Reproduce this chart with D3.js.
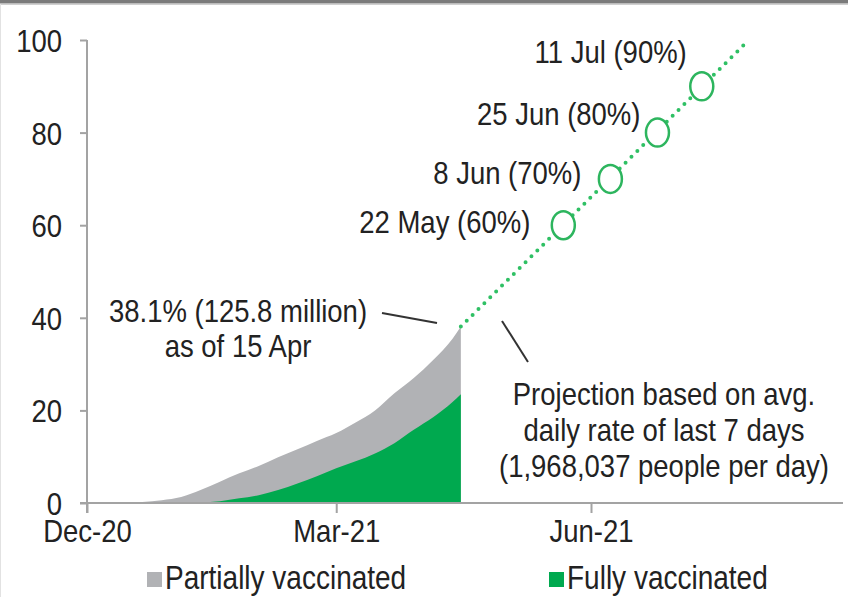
<!DOCTYPE html>
<html>
<head>
<meta charset="utf-8">
<script src="https://cdn.jsdelivr.net/npm/d3@7"></script>
<style>
  body { margin: 0; background: #fff; }
  text { font-family: "Liberation Sans", Arial, sans-serif; font-size: 27.5px; fill: #222; }
  .legend text { font-size: 28px; }
</style>
</head>
<body>
<div id="chart"></div>
<script>
// vaccination to date (% of population)
var dates = ["2020-12-14", "2020-12-21", "2020-12-28", "2021-01-04", "2021-01-11", "2021-01-18",
    "2021-01-25", "2021-02-01", "2021-02-08", "2021-02-15", "2021-02-22", "2021-03-01",
    "2021-03-08", "2021-03-15", "2021-03-22", "2021-03-29", "2021-04-05", "2021-04-12", "2021-04-15"];
var atLeastOneDose = [0, 0.2, 0.6, 1.3, 2.8, 4.6, 6.4, 8.0, 9.9, 11.6, 13.4, 15.1,
    17.4, 20.0, 23.7, 27.0, 30.9, 35.5, 38.1];
var fullyVaccinated = [0, 0, 0, 0, 0.1, 0.4, 1.0, 1.7, 2.8, 4.2, 5.8, 7.5,
    9.0, 10.7, 12.9, 15.8, 18.5, 21.8, 23.5];

// projection at current daily rate
var projDates = ["2021-04-15", "2021-07-28"];
var projValues = [38.1, 100];

var milestoneDates = ["2021-05-22", "2021-06-08", "2021-06-25", "2021-07-11"];
var milestoneValues = [60, 70, 80, 90];
var milestoneLabels = ["22 May (60%)", "8 Jun (70%)", "25 Jun (80%)", "11 Jul (90%)"];

var tickDates = ["2020-12-01", "2021-03-01", "2021-06-01"];
var tickLabels = ["Dec-20", "Mar-21", "Jun-21"];
var yTicks = [0, 20, 40, 60, 80, 100];

var seriesNames = ["Partially vaccinated", "Fully vaccinated"];
var seriesColors = ["#b1b2b5", "#00a94f"];

var svgWidth = 848;
var svgHeight = 597;
var stretch = 1.17; // the source text is tall and narrow
var parse = d3.utcParse("%Y-%m-%d");

var svg = d3.select("#chart")
    .append("svg")
    .attr("width", svgWidth)
    .attr("height", svgHeight);

function label(parent, x, y, str, anchor) {
    return parent.append("text")
        .attr("transform", `translate(${x},${y}) scale(1,${stretch})`)
        .attr("text-anchor", anchor || "start")
        .text(str);
}

// frame
svg.append("rect").attr("x", 0).attr("y", 0).attr("width", svgWidth).attr("height", 3.5).attr("fill", "#7b7b7b");
svg.append("line").attr("x1", 0).attr("x2", svgWidth).attr("y1", 4.5).attr("y2", 4.5).attr("stroke", "#d0d0d0");
svg.append("line").attr("x1", 0.5).attr("x2", 0.5).attr("y1", 4).attr("y2", svgHeight).attr("stroke", "#e2e2e2");

var x = d3.scaleUtc()
    .domain([parse("2020-12-01"), parse("2021-08-31")])
    .range([87, 843]);

var y = d3.scaleLinear()
    .domain([0, 100])
    .range([503, 40]);

var data = dates.map(function(d, i) {
    return { date: parse(d), total: atLeastOneDose[i], full: fullyVaccinated[i] };
});

var areaTotal = d3.area()
    .x(d => x(d.date))
    .y0(y(0))
    .y1(d => y(d.total))
    .curve(d3.curveMonotoneX);

var areaFull = d3.area()
    .x(d => x(d.date))
    .y0(y(0))
    .y1(d => y(d.full))
    .curve(d3.curveMonotoneX);

svg.append("path").datum(data).attr("d", areaTotal).attr("fill", seriesColors[0]);
svg.append("path").datum(data).attr("d", areaFull).attr("fill", seriesColors[1]);

// axes
var leftAxis = d3.axisLeft(y).tickValues(yTicks).tickSize(7).tickFormat(d3.format("d"));
var bottomAxis = d3.axisBottom(x)
    .tickValues(tickDates.map(parse))
    .tickSize(10)
    .tickFormat((d, i) => tickLabels[i]);

var gy = svg.append("g").attr("transform", "translate(87,0)").call(leftAxis);
gy.select(".domain").attr("d", "M0,40V513");
gy.selectAll("text")
    .attr("x", -25).attr("dy", "0.36em")
    .attr("font-size", null)
    .attr("transform", `scale(1,${stretch})`);

var gx = svg.append("g").attr("transform", "translate(0,503)").call(bottomAxis);
gx.select(".domain").attr("d", "M80,0H843");
gx.selectAll("text")
    .attr("y", 39 / stretch).attr("dy", 0)
    .attr("font-size", null)
    .attr("transform", `scale(1,${stretch})`);

svg.selectAll(".domain, .tick line").attr("stroke", "#a3a3a3").attr("stroke-width", 2);
svg.selectAll(".tick text").attr("font-family", null).attr("fill", "#222");

// projection line
var proj = projDates.map((d, i) => ({ date: parse(d), value: projValues[i] }));
svg.append("path")
    .datum(proj)
    .attr("d", d3.line().x(d => x(d.date)).y(d => y(d.value)))
    .attr("fill", "none")
    .attr("stroke", "#2fc064")
    .attr("stroke-width", 4)
    .attr("stroke-linecap", "round")
    .attr("stroke-dasharray", "0 8.3");

// milestones
var labelOffsets = [[-33, 8], [-29, 5], [-17, -8], [-15, -23]];
milestoneDates.forEach(function(d, i) {
    var cx = x(parse(d)), cy = y(milestoneValues[i]);
    svg.append("ellipse")
        .attr("cx", cx).attr("cy", cy)
        .attr("rx", 11.5).attr("ry", 14)
        .attr("fill", "#fff")
        .attr("stroke", "#2db55e")
        .attr("stroke-width", 2.5);
    label(svg, cx + labelOffsets[i][0], cy + labelOffsets[i][1], milestoneLabels[i], "end");
});

// annotations
label(svg, 238, 322, "38.1% (125.8 million)", "middle");
label(svg, 238, 357, "as of 15 Apr", "middle");
svg.append("line").attr("x1", 382).attr("y1", 313).attr("x2", 437).attr("y2", 323)
    .attr("stroke", "#333").attr("stroke-width", 2);

["Projection based on avg.", "daily rate of last 7 days", "(1,968,037 people per day)"].forEach(function(t, i) {
    label(svg, 664, 405 + i * 36, t, "middle");
});
svg.append("line").attr("x1", 502).attr("y1", 321).attr("x2", 528).attr("y2", 362)
    .attr("stroke", "#333").attr("stroke-width", 2);

// legend
var legend = svg.append("g").attr("class", "legend");
var legendX = [147, 549];
seriesNames.forEach(function(name, i) {
    legend.append("rect")
        .attr("x", legendX[i]).attr("y", 572)
        .attr("width", 15).attr("height", 15)
        .attr("fill", seriesColors[i]);
    label(legend, legendX[i] + 18, 589, name);
});
</script>
</body>
</html>
